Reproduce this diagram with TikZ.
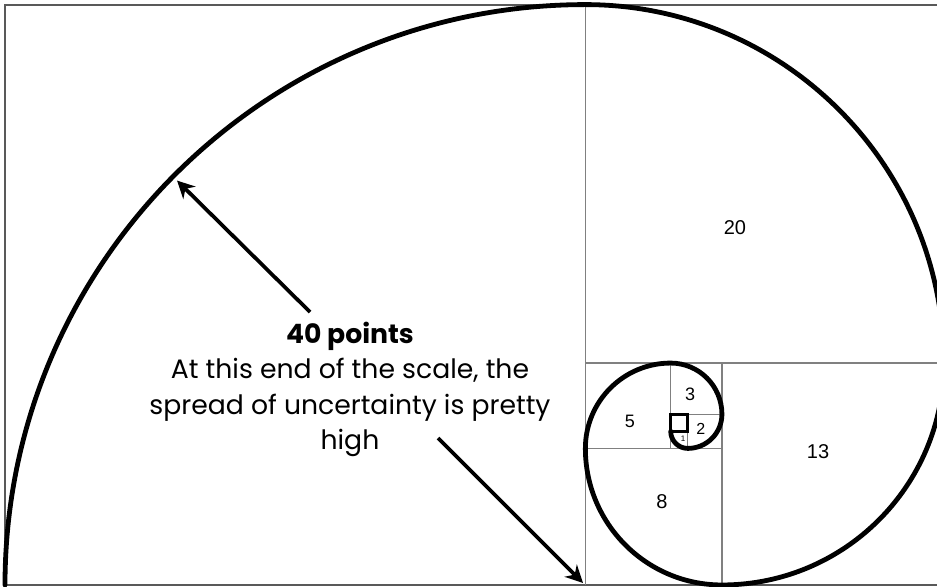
\documentclass[tikz,border=0pt]{standalone}
\usepackage{fontspec}
\setmainfont{Poppins}
\newfontfamily\numfont{Liberation Sans}
\usetikzlibrary{arrows.meta}

\begin{document}
\begin{tikzpicture}[
  scale=0.45,
  grid/.style={draw=black!50, line width=0.9pt},
  frame/.style={draw=black!65, line width=1.5pt},
  spiral/.style={line width=3.6pt, line cap=round},
  num/.style={font=\numfont\fontsize{15}{15}\selectfont},
  note/.style={align=center, font=\fontsize{20}{26.5}\selectfont},
  pointer/.style={->, line width=2.8pt},
  >={Stealth[length=13pt, width=13pt]}
]
\clip (-0.293,-0.117) rectangle (54.60,34.27);
\draw[frame] (0,0) rectangle (55,34);
\draw[grid] (34,0) -- (34,34);
\draw[grid] (34,13) -- (55,13);
\draw[grid] (42,0) -- (42,13);
\draw[grid] (34,8) -- (42,8);
\draw[grid] (39,8) -- (39,13);
\draw[grid] (39,10) -- (42,10);
\draw[grid] (40,8) -- (40,10);
\draw[grid] (39,9) -- (40,9);
\draw[line width=2.4pt] (39,9) rectangle (40,10);
\draw[spiral] (39,9) arc[start angle=180, end angle=270, radius=1]
  arc[start angle=270, end angle=360, radius=2]
  arc[start angle=0, end angle=90, radius=3]
  arc[start angle=90, end angle=180, radius=5]
  arc[start angle=180, end angle=270, radius=8]
  arc[start angle=270, end angle=360, radius=13]
  arc[start angle=0, end angle=90, radius=21]
  arc[start angle=90, end angle=180, radius=34];
\node[num] (n20) at (42.76,20.91) {20};
\node[num] (n13) at (47.63,7.79) {13};
\node[num] (n8) at (38.49,4.86) {8};
\node[num, font=\numfont\fontsize{13.5}{13.5}\selectfont] (n5) at (36.61,9.61) {5};
\node[num, font=\numfont\fontsize{13.5}{13.5}\selectfont] (n3) at (40.13,11.19) {3};
\node[num, font=\numfont\fontsize{12}{12}\selectfont] (n2) at (40.77,9.14) {2};
\node[num, font=\numfont\fontsize{6}{6}\selectfont] (n1) at (39.72,8.55) {1};
\node[note] (note) at (20.21,11.45) {\textbf{40 points}\\At this end of the scale, the\\spread of uncertainty is pretty\\high};
\coordinate (tailA) at (17.87,15.99);
\coordinate (tipA) at (10.08,23.69);
\coordinate (tailB) at (25.37,8.61);
\coordinate (tipB) at (33.86,0.12);
\draw[pointer] (tailA) -- (tipA);
\draw[pointer] (tailB) -- (tipB);
\end{tikzpicture}
\end{document}
